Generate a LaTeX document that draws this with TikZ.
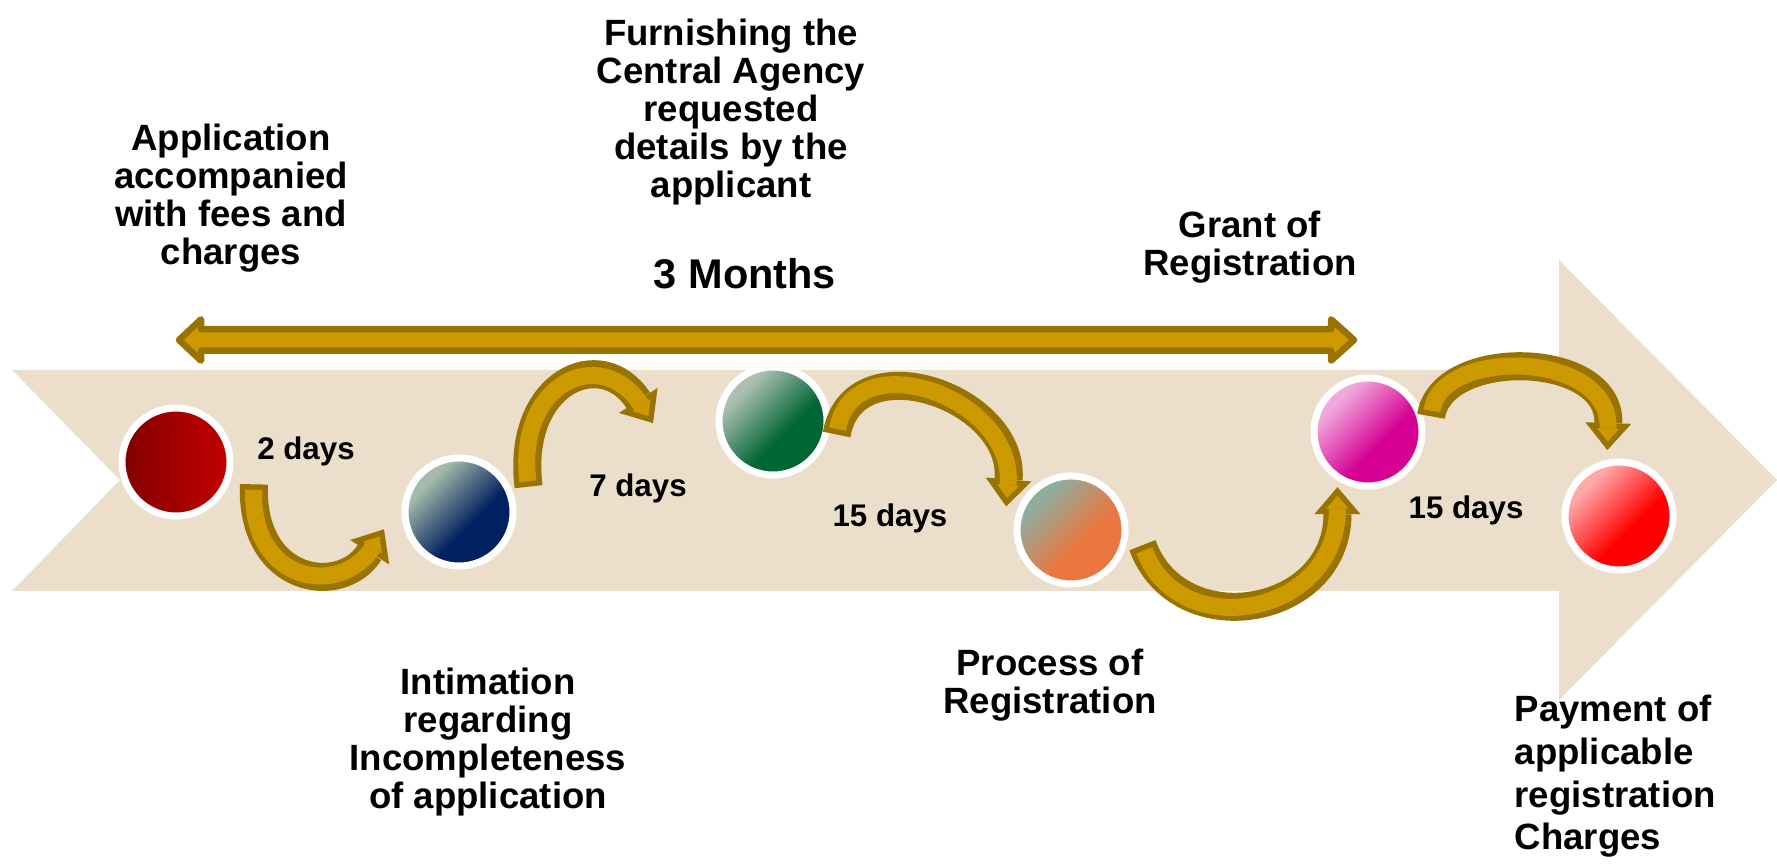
\documentclass[tikz,border=0pt]{standalone}
\usepackage{fontspec}
\setmainfont{Liberation Sans}
\usetikzlibrary{calc,arrows.meta}
\definecolor{BandTan}{HTML}{EBDECB}
\definecolor{ArrowGold}{HTML}{CC9900}
\definecolor{ArrowRim}{HTML}{997300}
\definecolor{BallMaroon}{HTML}{800000}
\definecolor{BallCrimson}{HTML}{C40000}
\definecolor{NavyLight}{HTML}{A5BCAC}
\definecolor{NavyDark}{HTML}{002060}
\definecolor{GreenLight}{HTML}{ABC0B2}
\definecolor{GreenDark}{HTML}{006633}
\definecolor{OrangeLight}{HTML}{8FAD9B}
\definecolor{OrangeDark}{HTML}{EB7640}
\definecolor{MagentaLight}{HTML}{F0A8DC}
\definecolor{MagentaDark}{HTML}{D60093}
\definecolor{RedLight}{HTML}{FFA8A8}
\definecolor{RedDark}{HTML}{FF0000}
\newcommand{\ballshading}[3]{%
  \pgfdeclarehorizontalshading{#1}{100bp}{color(0bp)=(#2); color(30bp)=(#2); color(58bp)=(#3); color(100bp)=(#3)}}
\ballshading{BallNavy}{NavyLight}{NavyDark}
\ballshading{BallGreen}{GreenLight}{GreenDark}
\ballshading{BallOrange}{OrangeLight}{OrangeDark}
\ballshading{BallMagenta}{MagentaLight}{MagentaDark}
\ballshading{BallRed}{RedLight}{RedDark}
\tikzset{
  stagedot/.style={circle, draw=white, line width=2pt, minimum size=1.08cm, inner sep=0pt, outer sep=0pt},
  bendarrow/.style={draw=ArrowRim, line width=7.97pt, -{Triangle[length=7.68pt, width=13.09pt, line width=0pt]},
    postaction={draw=ArrowGold, line width=4.84pt, -{Triangle[length=3.7pt, width=6.26pt, line width=0pt]}, shorten >=2.42pt, shorten <=1.56pt}},
  spanarrow/.style={draw=ArrowRim, fill=ArrowGold, line width=1.85pt, line join=round},
  stagetext/.style={font=\bfseries\fontsize{10.4}{10.8}\selectfont, align=center, inner sep=0pt, anchor=north},
  daytext/.style={font=\bfseries\fontsize{8.9}{10}\selectfont, inner sep=0pt, anchor=base}
}
\begin{document}
\begin{tikzpicture}[x=0.01cm, y=0.01cm]
    \useasboundingbox (0,0) rectangle (1777,867);
    \fill[BandTan] (12,497) -- (1559,497) -- (1559,607) -- (1777,387) -- (1559,167) -- (1559,276) -- (12,276) -- (120,387) -- cycle;
    \draw[spanarrow] (179,527) -- (201,547.7) -- (201,537.75) -- (1331,537.75) -- (1331,547.7) -- (1354,527)
        -- (1331,506.3) -- (1331,516.25) -- (201,516.25) -- (201,506.3) -- cycle;
    \node[stagedot, left color=BallMaroon, right color=BallCrimson] (c1) at (176,405) {};
    \foreach \n/\px/\py/\sh in {2/459/355/BallNavy, 3/773/446/BallGreen, 4/1071/337/BallOrange, 5/1368/435/BallMagenta, 6/1619/351/BallRed}
        {
            \node[stagedot, shade, shading=\sh, shading angle=-45] (c\n) at (\px,\py) {};
        }
    \draw[bendarrow] ($(c1)+(-16:81)$) .. controls +(-92:100) and +(238:80) .. ($(c2)+(193:77)$);
    \draw[bendarrow] ($(c2)+(20:74)$) .. controls +(97:105) and +(123:95) .. ($(c3)+(181:120)$);
    \draw[bendarrow] ($(c3)+(-12:65)$) .. controls +(80:95) and +(85:110) .. ($(c4)+(160:69)$);
    \draw[bendarrow] ($(c4)+(-12:73)$) .. controls +(-70:105) and +(-90:130) .. ($(c5)+(241:63)$);
    \draw[bendarrow] ($(c5)+(14:65)$) .. controls +(82:70) and +(88:100) .. ($(c6)+(100:67)$);
    \node[stagetext] (apply) at (231,744) {Application\\accompanied\\with fees and\\charges};
    \node[stagetext] (furnish) at (731,849) {Furnishing the\\Central Agency\\requested\\details by the\\applicant};
    \node[stagetext, font=\bfseries\fontsize{11.8}{13}\selectfont] (span) at (745,609) {3 Months};
    \node[stagetext] (grant) at (1250,657) {Grant of\\Registration};
    \node[stagetext] (intimate) at (488,200) {Intimation\\regarding\\Incompleteness\\of application};
    \node[stagetext] (process) at (1050,219) {Process of\\Registration};
    \node[stagetext, align=left, anchor=north west, font=\bfseries\fontsize{10.4}{12.2}\selectfont] (payment) at (1514,173) {Payment of\\applicable\\registration\\Charges};
    \node[daytext] (d1) at (306,407) {2 days};
    \node[daytext] (d2) at (638,370) {7 days};
    \node[daytext] (d3) at (890,340) {15 days};
    \node[daytext] (d4) at (1466,348) {15 days};
\end{tikzpicture}
\end{document}
